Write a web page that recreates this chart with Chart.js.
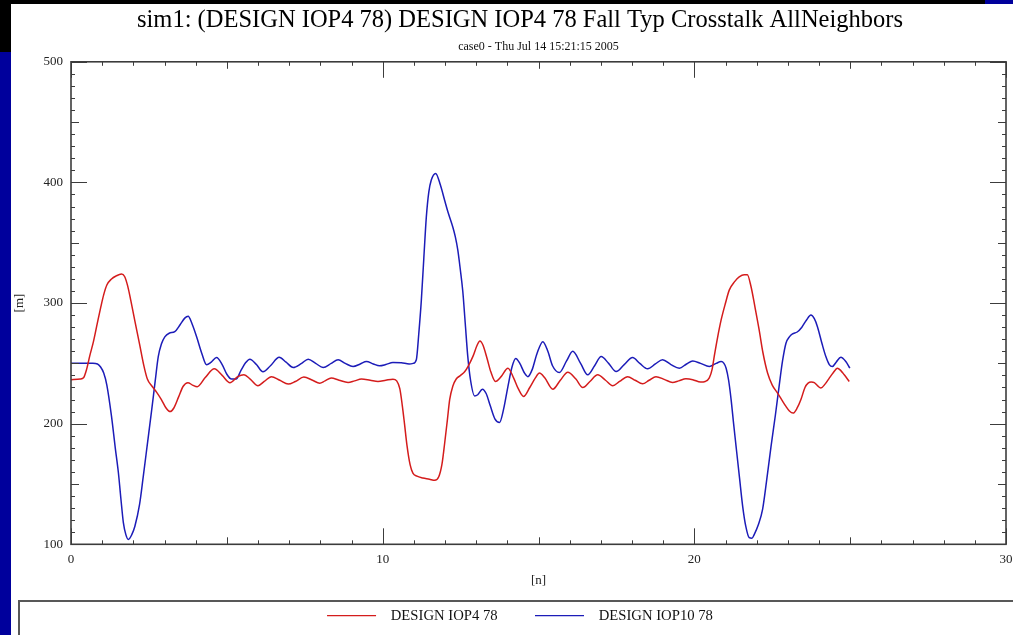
<!DOCTYPE html>
<html>
<head>
<meta charset="utf-8">
<script src="https://cdn.jsdelivr.net/npm/chart.js@4/dist/chart.umd.min.js"></script>
<style>
html,body{margin:0;padding:0;width:1013px;height:635px;overflow:hidden;background:#000;}
#strip{position:absolute;left:0;top:52px;width:11px;height:583px;background:#00009c;}
#corner{position:absolute;left:985px;top:0;width:28px;height:4px;background:#00009c;}
#panel{position:absolute;left:11px;top:4px;width:1018px;height:631px;background:#fff;}
#legendFrame{position:absolute;left:18px;top:600px;width:1100px;height:100px;border:2px solid #585858;box-sizing:border-box;pointer-events:none;}
canvas{display:block;}
</style>
</head>
<body>
<div id="strip"></div>
<div id="corner"></div>
<div id="panel"><canvas id="c" width="1018" height="631"></canvas></div>
<div id="legendFrame"></div>
<script>
const chartTitle = 'sim1: (DESIGN IOP4 78) DESIGN IOP4 78 Fall Typ Crosstalk AllNeighbors';
const chartSubtitle = 'case0 - Thu Jul 14 15:21:15 2005';
const seriesNames = ['DESIGN IOP4 78', 'DESIGN IOP10 78'];
const xTickValues = [0, 10, 20, 30];
const yTickValues = [100, 200, 300, 400, 500];

const iop4X = [
  0,0.3,0.4,0.5,0.6,0.72,0.85,0.95,1.05,1.15,
  1.3,1.45,1.62,1.72,1.82,1.92,2.05,2.2,2.33,2.45,
  2.6,2.75,2.9,3.05,3.18,3.3,3.45,3.6,3.75,3.9,
  4.05,4.3,4.6,4.85,5.1,5.35,5.55,5.75,6.0,6.2,
  6.43,6.7,6.97,7.2,7.47,7.75,7.98,8.15,8.35,8.6,
  8.89,9.1,9.32,9.6,9.85,10.1,10.33,10.45,10.55,10.63,
  10.7,10.78,10.88,10.97,11.1,11.29,11.5,11.67,11.8,11.9,
  11.99,12.08,12.15,12.25,12.36,12.5,12.63,12.75,12.9,13.03,
  13.12,13.22,13.35,13.47,13.62,13.8,14.02,14.2,14.35,14.52,
  14.72,14.9,15.03,15.2,15.46,15.7,15.94,16.2,16.42,16.65,
  16.9,17.15,17.38,17.6,17.86,18.1,18.34,18.55,18.77,19.05,
  19.3,19.5,19.73,19.95,20.2,20.35,20.48,20.57,20.64,20.75,
  20.86,21.0,21.12,21.3,21.44,21.6,21.7,21.82,21.95,22.08,
  22.2,22.35,22.5,22.67,22.8,22.94,23.05,23.17,23.3,23.42,
  23.55,23.65,23.75,23.85,23.95,24.06,24.2,24.33,24.45,24.59,
  24.7,24.81,24.97
];
const iop4Y = [
  236.5,237,238,245,256,268,284,296,307,315,
  320,322.5,324,322,314,302,285,266,249,237,
  231,226,220,213,210,213,222,231,234,232,
  230.6,238,245.5,240,234,239,240.5,237,231.5,235,
  239,236,232.8,235,238.6,236,233.6,235.5,237.8,236,
  234.2,235.5,237,236,235,236,236.9,235.5,229,215,
  200,182,166,159,156.5,155,154,153,156,166,
  184,204,220,231,237,240,243,248,256,265,
  268.5,265,254,243,235,239,246,238,229,222.6,
  230,238,242,238,228.6,236,242.7,237,230,235,
  240.5,236,231.4,235,239,236,233,236,239,236.5,
  234.2,235.5,237.2,236.5,234.5,235,238,245,256,272,
  286,300,310.7,318,321.7,323.5,323.5,313.5,296,277.7,
  259,242,232,225.4,220,214.3,210.5,208.8,213,220,
  230,233.6,234.5,234,231.5,229.5,233,237.8,242,246,
  244,240.5,235
];
const iop10X = [
  0,0.7,0.85,0.95,1.05,1.15,1.3,1.42,1.52,1.6,
  1.68,1.76,1.84,1.95,2.05,2.2,2.32,2.45,2.59,2.7,
  2.8,2.9,3.01,3.15,3.33,3.5,3.65,3.76,3.88,4.03,
  4.2,4.35,4.5,4.67,4.85,5.0,5.15,5.3,5.45,5.6,
  5.74,5.95,6.16,6.4,6.68,6.9,7.13,7.4,7.61,7.85,
  8.09,8.35,8.57,8.8,9.05,9.28,9.48,9.7,9.9,10.1,
  10.33,10.6,10.85,10.98,11.08,11.16,11.24,11.32,11.4,11.48,
  11.56,11.7,11.85,11.99,12.1,12.25,12.33,12.41,12.49,12.57,
  12.65,12.73,12.82,12.95,13.05,13.2,13.32,13.45,13.6,13.75,
  13.88,14.02,14.15,14.27,14.4,14.55,14.66,14.8,14.95,15.14,
  15.3,15.45,15.67,15.9,16.1,16.35,16.58,16.8,17.01,17.25,
  17.49,17.75,18.02,18.25,18.5,18.75,18.98,19.25,19.52,19.75,
  19.95,20.2,20.48,20.7,20.86,20.95,21.02,21.1,21.18,21.26,
  21.34,21.45,21.55,21.65,21.76,21.85,21.92,22.05,22.19,22.32,
  22.46,22.6,22.72,22.83,22.94,23.05,23.15,23.3,23.45,23.6,
  23.74,23.85,23.95,24.1,24.22,24.33,24.43,24.55,24.7,24.86,
  24.99
];
const iop10Y = [
  250,250,249.5,247,242,232,206,180,159.5,138,
  118,108,104,108,115,133,156.5,183,211.6,235,
  255.6,266,272,275,276.3,282,287.5,289,283,272,
  258,248.8,251,254.8,249,241,237,237,244,250.5,
  253.5,249,243,248,255,251,246.6,250,253.5,250,
  246.6,250,253,250,247.4,249.5,251.5,249.5,248,249,
  250.7,250.5,249.5,250,253,275,302,337,371,392,
  402,407.5,398,385,375,363,355,344,328,310,
  283,256,236,223,224,228.6,225,215,204,201,
  212,231,247,254,250,242,239,245,258,268,
  260,248,242.4,252,260,250,240.5,248,255.6,250,
  243.2,249,254.8,250,245.5,249.5,253,249,246,249.5,
  252,250,247.4,250,251.5,250,246,236,220,200,
  181,155,131.7,115,105.5,105,108,116,129,153,
  181,207,231,252,266.7,272,274.4,276,280,286,
  290,287,280.4,266,255.6,249,247.4,251,255,251.5,
  246
];

const toPoints = (xs, ys) => xs.map((x, i) => ({x: x, y: ys[i]}));
const serif = 'Liberation Serif';

const frameTicks = {
  id: 'frameTicks',
  afterDraw(chart) {
    const {ctx, chartArea: a, scales: {x, y}} = chart;
    ctx.save();
    ctx.strokeStyle = '#3c3c3c';
    ctx.lineWidth = 1;
    ctx.beginPath();
    for (let v = x.min; v <= x.max; v += 1) {
      const len = v % 10 === 0 ? 16 : (v % 5 === 0 ? 7 : 4);
      const px = Math.round(x.getPixelForValue(v)) + 0.5;
      ctx.moveTo(px, a.bottom); ctx.lineTo(px, a.bottom - len);
      ctx.moveTo(px, a.top); ctx.lineTo(px, a.top + len);
    }
    for (let v = y.min; v <= y.max; v += 10) {
      const len = v % 100 === 0 ? 16 : (v % 50 === 0 ? 8 : 4);
      const py = Math.round(y.getPixelForValue(v)) + 0.5;
      ctx.moveTo(a.left, py); ctx.lineTo(a.left + len, py);
      ctx.moveTo(a.right, py); ctx.lineTo(a.right - len, py);
    }
    ctx.stroke();
    ctx.lineWidth = 1.6;
    ctx.strokeRect(a.left, a.top, a.right - a.left, a.bottom - a.top);
    ctx.restore();
  }
};

new Chart(document.getElementById('c'), {
  type: 'line',
  data: {
    datasets: [
      {label: seriesNames[0], data: toPoints(iop4X, iop4Y), borderColor: '#d41c1c', backgroundColor: '#d41c1c', borderWidth: 1.5, pointRadius: 0, cubicInterpolationMode: 'monotone', fill: false},
      {label: seriesNames[1], data: toPoints(iop10X, iop10Y), borderColor: '#1c1cb8', backgroundColor: '#1c1cb8', borderWidth: 1.5, pointRadius: 0, cubicInterpolationMode: 'monotone', fill: false}
    ]
  },
  options: {
    responsive: false,
    animation: false,
    events: [],
    layout: {padding: {top: 2, right: 0, bottom: 2, left: 0}},
    scales: {
      x: {
        type: 'linear', min: 0, max: 30,
        afterBuildTicks: s => { s.ticks = xTickValues.map(v => ({value: v})); },
        afterFit: s => { s.height = 56; },
        grid: {display: false, drawTicks: false},
        border: {display: false},
        ticks: {font: {family: serif, size: 13}, color: '#222', padding: 7, maxRotation: 0},
        title: {display: true, text: '[n]', font: {family: serif, size: 13}, color: '#222', padding: {top: 0, bottom: 12}}
      },
      y: {
        min: 100, max: 500,
        afterBuildTicks: s => { s.ticks = yTickValues.map(v => ({value: v})); },
        afterFit: s => { s.width = 60; },
        grid: {display: false, drawTicks: false},
        border: {display: false},
        ticks: {font: {family: serif, size: 13}, color: '#222', padding: 8},
        title: {display: true, text: '[m]', font: {family: serif, size: 13}, color: '#222', padding: {top: 1, bottom: 0}}
      },
      yRight: {
        position: 'right', min: 100, max: 500,
        afterFit: s => { s.width = 23; },
        grid: {display: false, drawTicks: false},
        border: {display: false},
        ticks: {display: false}
      }
    },
    plugins: {
      title: {display: true, text: chartTitle, color: '#000', font: {family: serif, size: 24.5, weight: 'normal'}, padding: {top: 0, bottom: 0}},
      subtitle: {display: true, text: chartSubtitle, color: '#111', fullSize: false, font: {family: serif, size: 12, weight: 'normal'}, padding: {top: 4, bottom: 8}},
      legend: {
        position: 'bottom',
        labels: {
          font: {family: serif, size: 14.7}, color: '#111', boxWidth: 49, boxHeight: 0, padding: 8,
          generateLabels(chart) {
            const items = Chart.defaults.plugins.legend.labels.generateLabels(chart);
            items.forEach((it, i) => {
              it.text = '  ' + it.text + (i < items.length - 1 ? '        ' : '');
              it.lineWidth = 1.2;
            });
            return items;
          }
        }
      },
      tooltip: {enabled: false}
    }
  },
  plugins: [frameTicks]
});
</script>
</body>
</html>
